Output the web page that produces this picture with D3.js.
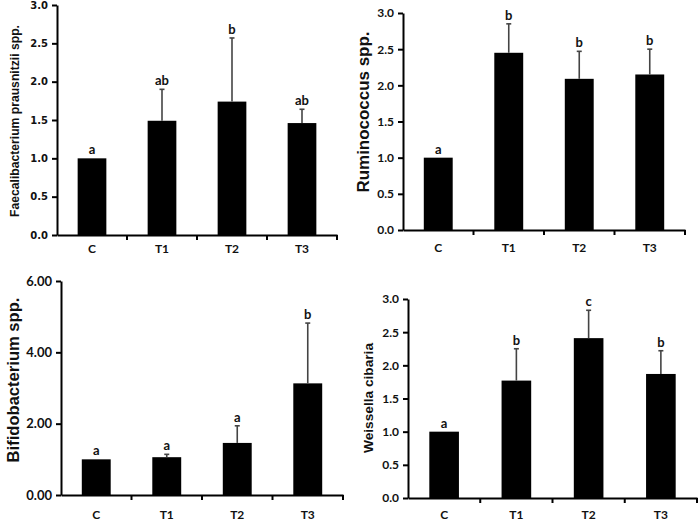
<!DOCTYPE html>
<html>
<head>
<meta charset="utf-8">
<script src="https://cdn.jsdelivr.net/npm/d3@7"></script>
<style>
  html, body { margin: 0; padding: 0; background: #fff; }
  svg { display: block; }
</style>
</head>
<body>
<svg id="chart" width="700" height="522"></svg>
<script>
// ---------------- DATA ----------------
const categories = ["C", "T1", "T2", "T3"];

const faecaliMeans   = [1.00, 1.49, 1.74, 1.46];
const faecaliErrors  = [0.00, 0.41, 0.83, 0.18];
const faecaliLetters = ["a", "ab", "b", "ab"];

const ruminoMeans    = [1.00, 2.45, 2.09, 2.15];
const ruminoErrors   = [0.00, 0.40, 0.38, 0.35];
const ruminoLetters  = ["a", "b", "b", "b"];

const bifidoMeans    = [1.00, 1.06, 1.46, 3.13];
const bifidoErrors   = [0.00, 0.08, 0.48, 1.69];
const bifidoLetters  = ["a", "a", "a", "b"];

const weissMeans     = [1.00, 1.77, 2.41, 1.87];
const weissErrors    = [0.00, 0.48, 0.42, 0.35];
const weissLetters   = ["a", "b", "c", "b"];

const halfTicks   = [0, 0.5, 1.0, 1.5, 2.0, 2.5, 3.0];
const bifidoTicks = [0, 2, 4, 6];

// ---------------- LAYOUT ----------------
const panels = [
  { title: "Faecalibacterium prausnitzii spp.", means: faecaliMeans, errs: faecaliErrors, letters: faecaliLetters,
    ticks: halfTicks, fmt: ".1f", max: 3, x0: 57, x1: 337, yTop: 5, yBot: 235,
    tickFont: "'DejaVu Sans', Verdana, sans-serif", tickSize: 10, catSize: 12, catY: 253,
    labX: 15, labCY: 121, labLen: 192 },
  { title: "Ruminococcus spp.", means: ruminoMeans, errs: ruminoErrors, letters: ruminoLetters,
    ticks: halfTicks, fmt: ".1f", max: 3, x0: 403, x1: 685, yTop: 13, yBot: 230,
    tickFont: "Lato, sans-serif", tickSize: 12, catSize: 12, catY: 252,
    labX: 363, labCY: 112, labLen: 161 },
  { title: "Bifidobacterium spp.", means: bifidoMeans, errs: bifidoErrors, letters: bifidoLetters,
    ticks: bifidoTicks, fmt: ".2f", max: 6, x0: 61, x1: 343, yTop: 281, yBot: 495,
    tickFont: "Lato, sans-serif", tickSize: 13, catSize: 12, catY: 518.5,
    labX: 13, labCY: 380, labLen: 165 },
  { title: "Weissella cibaria", means: weissMeans, errs: weissErrors, letters: weissLetters,
    ticks: halfTicks, fmt: ".1f", max: 3, x0: 408, x1: 697, yTop: 299, yBot: 498,
    tickFont: "Lato, sans-serif", tickSize: 12, catSize: 12, catY: 519,
    labX: 368, labCY: 398, labLen: 110 }
];

const svg = d3.select("#chart");

panels.forEach(p => {
  const g = svg.append("g");
  const x = d3.scaleBand().domain(categories).range([p.x0, p.x1]).padding(0);
  const y = d3.scaleLinear().domain([0, p.max]).range([p.yBot, p.yTop]);
  const barW = x.bandwidth() * 0.41;

  // bars
  g.selectAll("rect.bar").data(categories).join("rect")
    .attr("x", d => x(d) + (x.bandwidth() - barW) / 2)
    .attr("width", barW)
    .attr("y", (d, i) => y(p.means[i]))
    .attr("height", (d, i) => y(0) - y(p.means[i]))
    .attr("fill", "#000");

  // error bars (upper only)
  categories.forEach((c, i) => {
    if (p.errs[i] <= 0) return;
    const cx = x(c) + x.bandwidth() / 2;
    const top = y(p.means[i] + p.errs[i]);
    g.append("line").attr("x1", cx).attr("x2", cx)
      .attr("y1", y(p.means[i])).attr("y2", top)
      .attr("stroke", "#444").attr("stroke-width", 1.6);
    g.append("line").attr("x1", cx - 2.5).attr("x2", cx + 2.5)
      .attr("y1", top).attr("y2", top)
      .attr("stroke", "#444").attr("stroke-width", 1.6);
  });

  // significance letters
  g.selectAll("text.sig").data(categories).join("text")
    .attr("x", d => x(d) + x.bandwidth() / 2)
    .attr("y", (d, i) => y(p.means[i] + p.errs[i]) - 4)
    .attr("text-anchor", "middle")
    .style("font-family", "Lato, sans-serif")
    .style("font-weight", "bold")
    .style("font-size", "13px")
    .attr("fill", "#111")
    .text((d, i) => p.letters[i]);

  // y axis
  const yAxis = d3.axisLeft(y).tickValues(p.ticks).tickFormat(d3.format(p.fmt))
    .tickSize(5).tickSizeOuter(0).tickPadding(4);
  const ya = g.append("g").attr("transform", `translate(${p.x0},0)`).call(yAxis);
  ya.select(".domain").attr("stroke", "#000").attr("stroke-width", 2);
  ya.selectAll(".tick line").attr("stroke", "#000").attr("stroke-width", 2);
  ya.selectAll(".tick text")
    .style("font-family", p.tickFont).style("font-weight", "bold")
    .style("font-size", p.tickSize + "px").attr("fill", "#111");

  // x axis (labels only) + boundary ticks
  const xAxis = d3.axisBottom(x).tickSize(0).tickSizeOuter(0).tickPadding(0);
  const xa = g.append("g").attr("transform", `translate(0,${p.yBot})`).call(xAxis);
  xa.select(".domain").attr("stroke", "#000").attr("stroke-width", 2);
  xa.selectAll(".tick text")
    .attr("y", p.catY - p.yBot).attr("dy", 0)
    .style("font-family", "Lato, sans-serif").style("font-weight", "bold")
    .style("font-size", p.catSize + "px").attr("fill", "#111");
  const bounds = categories.map(c => x(c)).concat([x.range()[1]]).slice(1);
  g.selectAll("line.xt").data(bounds).join("line")
    .attr("x1", d => d).attr("x2", d => d)
    .attr("y1", p.yBot).attr("y2", p.yBot + 5)
    .attr("stroke", "#000").attr("stroke-width", 2);

  // y title, sized to match the reference length
  const t = g.append("text")
    .attr("transform", `translate(${p.labX},${p.labCY}) rotate(-90)`)
    .attr("text-anchor", "middle").attr("dominant-baseline", "central")
    .style("font-family", "'Liberation Sans', Arial, sans-serif")
    .style("font-weight", "bold").style("font-size", "12px")
    .attr("fill", "#111")
    .text(p.title);
  const len = t.node().getComputedTextLength();
  t.style("font-size", (12 * p.labLen / len).toFixed(2) + "px");
});
</script>
</body>
</html>
